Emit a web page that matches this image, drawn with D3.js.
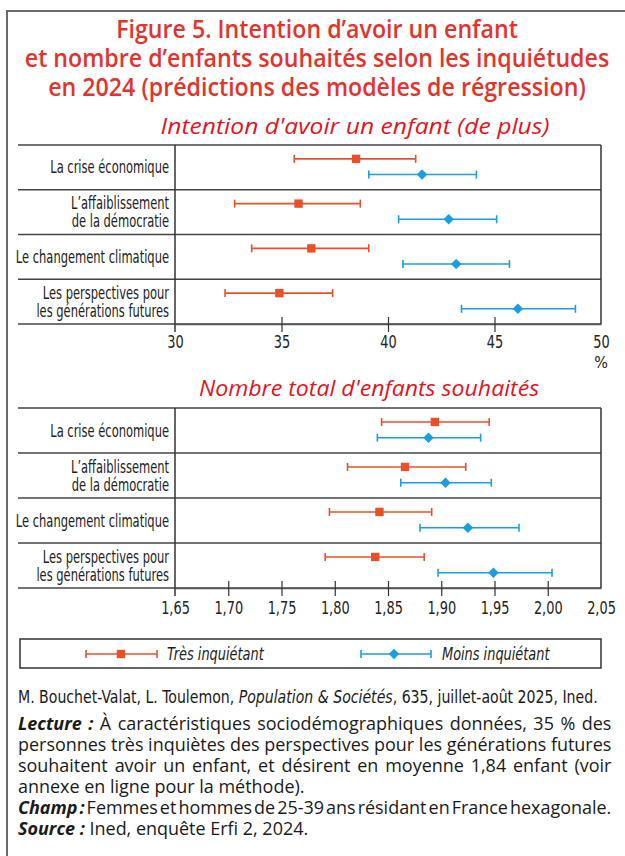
<!DOCTYPE html>
<html>
<head>
<meta charset="utf-8">
<script src="https://cdn.jsdelivr.net/npm/d3@7"></script>
<style>
  body { margin: 0; background: #fff; }
  svg { display: block; }
</style>
</head>
<body>
<svg id="fig"></svg>
<script>
// données
const categories = [
  "La crise économique",
  "L’affaiblissement\nde la démocratie",
  "Le changement climatique",
  "Les perspectives pour\nles générations futures"
];
const series = ["Très inquiétant", "Moins inquiétant"];

// Intention d'avoir un enfant (%)
const intentTresMid  = [38.5, 35.8, 36.4, 34.9];
const intentTresLow  = [35.6, 32.8, 33.6, 32.35];
const intentTresHigh = [41.3, 38.7, 39.1, 37.4];
const intentMoinsMid  = [41.6, 42.85, 43.2, 46.1];
const intentMoinsLow  = [39.1, 40.5, 40.7, 43.45];
const intentMoinsHigh = [44.15, 45.1, 45.7, 48.8];
const intentTicks = [30, 35, 40, 45, 50];

// Nombre total d'enfants souhaités
const nbTresMid  = [1.894, 1.866, 1.842, 1.838];
const nbTresLow  = [1.844, 1.812, 1.795, 1.791];
const nbTresHigh = [1.945, 1.923, 1.891, 1.884];
const nbMoinsMid  = [1.888, 1.904, 1.925, 1.949];
const nbMoinsLow  = [1.840, 1.862, 1.880, 1.897];
const nbMoinsHigh = [1.937, 1.947, 1.973, 2.004];
const nbTicks = [1.65, 1.70, 1.75, 1.80, 1.85, 1.90, 1.95, 2.00, 2.05];

const colors = ["#e8502a", "#199fe0"];
const narrow = "'Liberation Sans Narrow', 'DejaVu Sans Condensed', sans-serif";

const svg = d3.select("#fig").attr("width", 625).attr("height", 856);
svg.append("rect").attr("width", 625).attr("height", 856).attr("fill", "#fff");

// cadre
svg.append("path").attr("d", "M7,856 V11 H625")
  .attr("fill", "none").attr("stroke", "#6b6b6b").attr("stroke-width", 2);

// resserre (ou étire) un texte horizontalement autour de son point d'ancrage
function squeeze(sel, k, xa) {
  sel.each(function () {
    const x0 = xa != null ? xa : +(this.getAttribute("x") || 0);
    d3.select(this).attr("transform", `translate(${x0},0) scale(${k},1) translate(${-x0},0)`);
  });
}

// titre (un seul texte, trois lignes)
const titleLines = [
  "Figure 5. Intention d’avoir un enfant",
  "et nombre d’enfants souhaités selon les inquiétudes",
  "en 2024 (prédictions des modèles de régression)"
];
const title = svg.append("text")
  .attr("text-anchor", "middle")
  .attr("font-family", "'Open Sans', sans-serif")
  .attr("font-weight", 600).attr("font-size", 25.5)
  .attr("fill", "#e2342d");
title.selectAll("tspan").data(titleLines).join("tspan")
  .attr("x", 317).attr("y", (d, i) => 38 + i * 29).text(d => d);
title.call(squeeze, 0.91, 317);

const symSquare = d3.symbol().type(d3.symbolSquare).size(70);
const symDiamond = d3.symbol().type(d3.symbolSquare).size(55);

function drawErrorBar(g, x0, x1, xm, y, i) {
  g.append("line").attr("x1", x0).attr("x2", x1).attr("y1", y).attr("y2", y)
    .attr("stroke", colors[i]).attr("stroke-width", 1.6);
  [x0, x1].forEach(xx => g.append("line")
    .attr("x1", xx).attr("x2", xx).attr("y1", y - 4).attr("y2", y + 4)
    .attr("stroke", colors[i]).attr("stroke-width", 1.6));
  g.append("path")
    .attr("d", i === 0 ? symSquare() : symDiamond())
    .attr("transform", `translate(${xm},${y})` + (i === 1 ? " rotate(45)" : ""))
    .attr("fill", colors[i]);
}

function panel(cfg) {
  const g = svg.append("g");
  const x = d3.scaleLinear().domain(cfg.domain).range([175, 601]);
  const y = d3.scaleBand().domain(categories).range([cfg.top, cfg.bottom]);

  // sous-titre
  g.append("text").attr("x", cfg.subX).attr("y", cfg.subY)
    .attr("text-anchor", "middle")
    .attr("font-family", "'Open Sans', sans-serif").attr("font-style", "italic")
    .attr("font-size", 22).attr("fill", "#e3141f")
    .text(cfg.subtitle)
    .call(squeeze, cfg.subK);

  // lignes de séparation
  g.selectAll(".sep").data(categories.map(c => y(c)).concat([cfg.bottom])).join("line")
    .attr("x1", 18).attr("x2", 601).attr("y1", d => d).attr("y2", d => d)
    .attr("stroke", "#444").attr("stroke-width", 1.5);
  g.append("line").attr("x1", 175).attr("x2", 175).attr("y1", cfg.top).attr("y2", cfg.bottom + 8)
    .attr("stroke", "#333").attr("stroke-width", 1.5);
  g.append("line").attr("x1", 601).attr("x2", 601).attr("y1", cfg.top).attr("y2", cfg.bottom)
    .attr("stroke", "#333").attr("stroke-width", 1.5);

  // axe
  const ax = g.append("g").attr("transform", `translate(0,${cfg.bottom})`)
    .call(d3.axisBottom(x).tickValues(cfg.ticks).tickSize(8).tickSizeOuter(0)
      .tickPadding(cfg.pad).tickFormat(cfg.fmt));
  ax.select(".domain").attr("stroke", "#555").attr("stroke-width", 1.5);
  ax.selectAll(".tick line").attr("y1", -7).attr("stroke", "#333").attr("stroke-width", 1.2);
  ax.selectAll(".tick text").attr("font-family", narrow).attr("font-size", 17.5)
    .attr("fill", "#222").call(squeeze, 0.82);
  ax.selectAll(".tick").filter((d, i) => i === 0 || i === cfg.ticks.length - 1)
    .select("line").attr("stroke", "none");

  // libellés des lignes
  categories.forEach(c => {
    const lines = c.split("\n");
    const cy = y(c) + y.bandwidth() / 2;
    const t = g.append("text").attr("text-anchor", "end")
      .attr("font-family", narrow).attr("font-size", 17.5).attr("fill", "#222");
    lines.forEach((s, k) => {
      t.append("tspan").attr("x", 169)
        .attr("y", cy + (k - (lines.length - 1) / 2) * 18)
        .attr("dy", "0.35em").text(s);
    });
    t.call(squeeze, 0.73, 169);
  });

  // barres d'erreur
  const sets = [
    [cfg.tresLow, cfg.tresHigh, cfg.tresMid],
    [cfg.moinsLow, cfg.moinsHigh, cfg.moinsMid]
  ];
  sets.forEach((s, i) => {
    categories.forEach((c, j) => {
      const yy = y(c) + y.bandwidth() * (i === 0 ? 0.31 : 0.66);
      drawErrorBar(g, x(s[0][j]), x(s[1][j]), x(s[2][j]), yy, i);
    });
  });
  return { g, x };
}

const p1 = panel({
  domain: [30, 50], top: 145, bottom: 324, ticks: intentTicks, pad: 4,
  fmt: d3.format("d"),
  subtitle: "Intention d'avoir un enfant (de plus)", subX: 355, subY: 134, subK: 1.12,
  tresLow: intentTresLow, tresHigh: intentTresHigh, tresMid: intentTresMid,
  moinsLow: intentMoinsLow, moinsHigh: intentMoinsHigh, moinsMid: intentMoinsMid
});
p1.g.append("text").attr("x", p1.x(50)).attr("y", 368).attr("text-anchor", "middle")
  .attr("font-family", narrow).attr("font-size", 16).attr("fill", "#222").text("%");

const commaFmt = d => d3.format(".2f")(d).replace(".", ",");
panel({
  domain: [1.65, 2.05], top: 408, bottom: 588, ticks: nbTicks, pad: 6,
  fmt: commaFmt,
  subtitle: "Nombre total d'enfants souhaités", subX: 369, subY: 396, subK: 1.05,
  tresLow: nbTresLow, tresHigh: nbTresHigh, tresMid: nbTresMid,
  moinsLow: nbMoinsLow, moinsHigh: nbMoinsHigh, moinsMid: nbMoinsMid
});

// légende
const lg = svg.append("g");
lg.append("rect").attr("x", 20).attr("y", 639).attr("width", 581).attr("height", 29)
  .attr("fill", "none").attr("stroke", "#333").attr("stroke-width", 1.5);
const legendPos = [{ x0: 86, x1: 157, xm: 121, tx: 167 }, { x0: 361, x1: 431, xm: 394, tx: 442 }];
series.forEach((s, i) => {
  const p = legendPos[i];
  drawErrorBar(lg, p.x0, p.x1, p.xm, 654, i);
  lg.append("text").attr("x", p.tx).attr("y", 654).attr("dy", "0.35em")
    .attr("font-family", narrow).attr("font-style", "italic")
    .attr("font-size", 17.5).attr("fill", "#222").text(s).call(squeeze, 0.82);
});

// source et notes
const cite = svg.append("text").attr("x", 18).attr("y", 703)
  .attr("font-family", narrow).attr("font-size", 17).attr("fill", "#1a1a1a");
cite.append("tspan").text("M. Bouchet-Valat, L. Toulemon, ");
cite.append("tspan").attr("font-style", "italic").text("Population & Sociétés");
cite.append("tspan").text(", 635, juillet-août 2025, Ined.");
cite.call(squeeze, 580 / cite.node().getComputedTextLength());

const noteLines = [
  { parts: [["Lecture :", true], [" À caractéristiques sociodémographiques données, 35 % des", false]], justify: true },
  { parts: [["personnes très inquiètes des perspectives pour les générations futures", false]], justify: true },
  { parts: [["souhaitent avoir un enfant, et désirent en moyenne 1,84 enfant (voir", false]], justify: true },
  { parts: [["annexe en ligne pour la méthode).", false]], justify: false },
  { parts: [["Champ :", true], [" Femmes et hommes de 25-39 ans résidant en France hexagonale.", false]], justify: true },
  { parts: [["Source :", true], [" Ined, enquête Erfi 2, 2024.", false]], justify: false }
];
const notes = svg.append("text")
  .attr("font-family", "'Open Sans', sans-serif").attr("font-size", 17.5).attr("fill", "#1a1a1a");
const lineSpans = noteLines.map((ln, i) => ln.parts.map(([txt, bold], j) => {
  const sp = notes.append("tspan").text(txt);
  if (j === 0) sp.attr("x", 18).attr("y", 730 + i * 21);
  if (bold) sp.attr("font-weight", 700).attr("font-style", "italic");
  return sp;
}));
// resserrement commun, calé sur la ligne pleine, puis justification par l'espacement des mots
const lineW = spans => d3.sum(spans, s => s.node().getComputedTextLength());
const kBody = 594 / lineW(lineSpans[1]);
const target = 594 / kBody;
noteLines.forEach((ln, i) => {
  if (!ln.justify) return;
  const spans = lineSpans[i];
  const nSpaces = d3.sum(spans, s => (s.text().match(/ /g) || []).length);
  const ws = (target - lineW(spans)) / nSpaces;
  spans.forEach(s => s.attr("word-spacing", ws));
});
notes.call(squeeze, kBody, 18);
</script>
</body>
</html>
